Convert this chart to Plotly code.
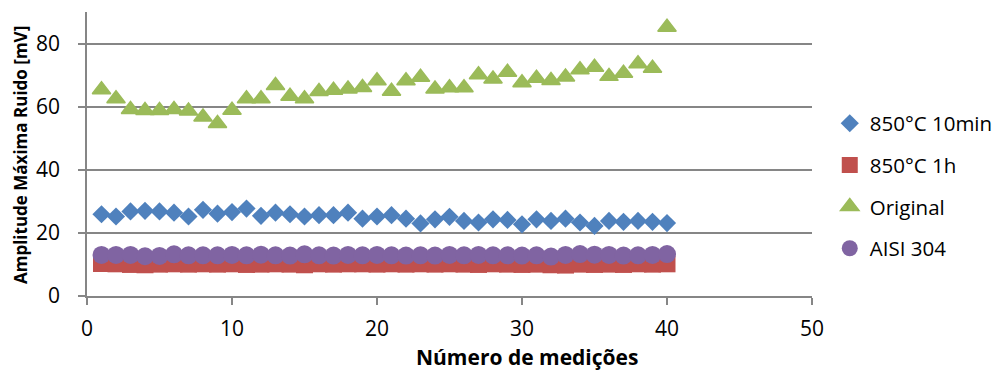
import plotly.graph_objects as go

x_vals = list(range(1, 41))

s_10min = [25.9, 25.2, 26.8, 27.0, 26.8, 26.4, 25.2, 27.3, 26.1, 26.6,
           27.7, 25.4, 26.4, 25.9, 25.2, 25.6, 25.6, 26.4, 24.5, 25.2,
           25.6, 24.5, 23.0, 24.3, 25.1, 23.8, 23.3, 24.3, 24.1, 22.7,
           24.3, 23.8, 24.5, 23.3, 22.2, 23.8, 23.5, 23.8, 23.5, 23.1]

s_1h = [10.3, 10.2, 10.0, 9.9, 10.1, 10.2, 10.1, 10.2, 10.1, 10.2,
        10.0, 10.1, 10.2, 10.1, 9.9, 10.2, 10.1, 10.2, 10.2, 10.1,
        10.2, 10.1, 10.2, 10.1, 10.2, 10.1, 10.0, 10.2, 10.1, 10.0,
        10.1, 9.9, 9.8, 10.1, 10.0, 10.1, 10.0, 10.2, 10.1, 10.2]

s_original = [65.4, 62.5, 59.1, 58.8, 58.8, 59.1, 58.6, 56.7, 54.7, 58.9,
              62.5, 62.5, 66.7, 63.3, 62.5, 64.8, 65.2, 65.6, 66.1, 68.2,
              64.9, 68.2, 69.3, 65.6, 66.0, 66.0, 70.1, 68.8, 70.9, 67.6,
              69.0, 68.3, 69.4, 71.7, 72.5, 69.6, 70.6, 73.6, 72.2, 85.2]

s_aisi = [13.0, 13.0, 13.0, 12.6, 12.7, 13.2, 12.9, 12.9, 12.9, 13.0,
          12.9, 13.1, 12.9, 12.8, 13.2, 12.9, 12.8, 13.0, 12.9, 13.0,
          12.9, 12.8, 12.9, 12.8, 13.0, 12.9, 13.0, 12.9, 12.9, 12.8,
          12.9, 12.5, 13.0, 13.3, 13.1, 13.0, 12.8, 12.9, 13.0, 13.3]

series_names = ["850°C 10min", "850°C 1h", "Original", "AISI 304"]
x_ticks = [0, 10, 20, 30, 40, 50]
y_ticks = [0, 20, 40, 60, 80]

FONT = "Open Sans"
AXIS_COLOR = "#868686"

fig = go.Figure()
styles = [
    (s_10min, "diamond", "#4F81BD", 14, 0),
    (s_1h, "square", "#C0504D", 17, 0),
    (s_original, "triangle-up", "#9BBB59", 16, 1.5),
    (s_aisi, "circle", "#8064A2", 18, 0),
]
for name, (vals, sym, col, sz, lw) in zip(series_names, styles):
    fig.add_trace(go.Scatter(
        x=x_vals, y=vals, mode="markers", name=name, legendgroup=name,
        marker=dict(symbol=sym, color=col, size=sz,
                    line=dict(width=lw, color=col)),
    ))

# The page body has an 8px default margin, so the figure is sized to fit
fig.update_layout(
    width=993, height=362,
    margin=dict(l=79, r=189, t=4, b=74, autoexpand=False),
    paper_bgcolor="white", plot_bgcolor="white",
    font=dict(family=FONT, size=21, color="#000000"),
    showlegend=True,
    legend=dict(x=1.0245, xanchor="left", y=0.678, yanchor="top",
                traceorder="grouped", tracegroupgap=12,
                font=dict(family=FONT, size=20.5, color="#000000"),
                bgcolor="rgba(0,0,0,0)"),
    xaxis=dict(range=[0, 50], tickvals=x_ticks, showgrid=False, zeroline=False,
               showline=True, linecolor=AXIS_COLOR, linewidth=1.5,
               ticks="outside", ticklen=7, tickcolor=AXIS_COLOR, tickwidth=1.5,
               tickfont=dict(family=FONT, size=21), ticklabelstandoff=6),
    yaxis=dict(range=[0, 90], tickvals=y_ticks, showgrid=True, gridcolor=AXIS_COLOR,
               gridwidth=1.5, zeroline=False,
               showline=True, linecolor=AXIS_COLOR, linewidth=1.5,
               ticks="outside", ticklen=7, tickcolor=AXIS_COLOR, tickwidth=1.5,
               tickfont=dict(family=FONT, size=21), ticklabelstandoff=14),
    annotations=[
        dict(text="<b>Número de medições</b>", xref="paper", yref="paper",
             x=0.607, y=-0.215, xanchor="center", yanchor="middle",
             showarrow=False, font=dict(family=FONT, size=21)),
        dict(text="<b>Amplitude Máxima Ruido [mV]</b>", xref="paper", yref="paper",
             x=-0.091, y=0.4965, xanchor="center", yanchor="middle", textangle=-90,
             showarrow=False, font=dict(family=FONT, size=17)),
    ],
)

fig.write_html("out.html")
